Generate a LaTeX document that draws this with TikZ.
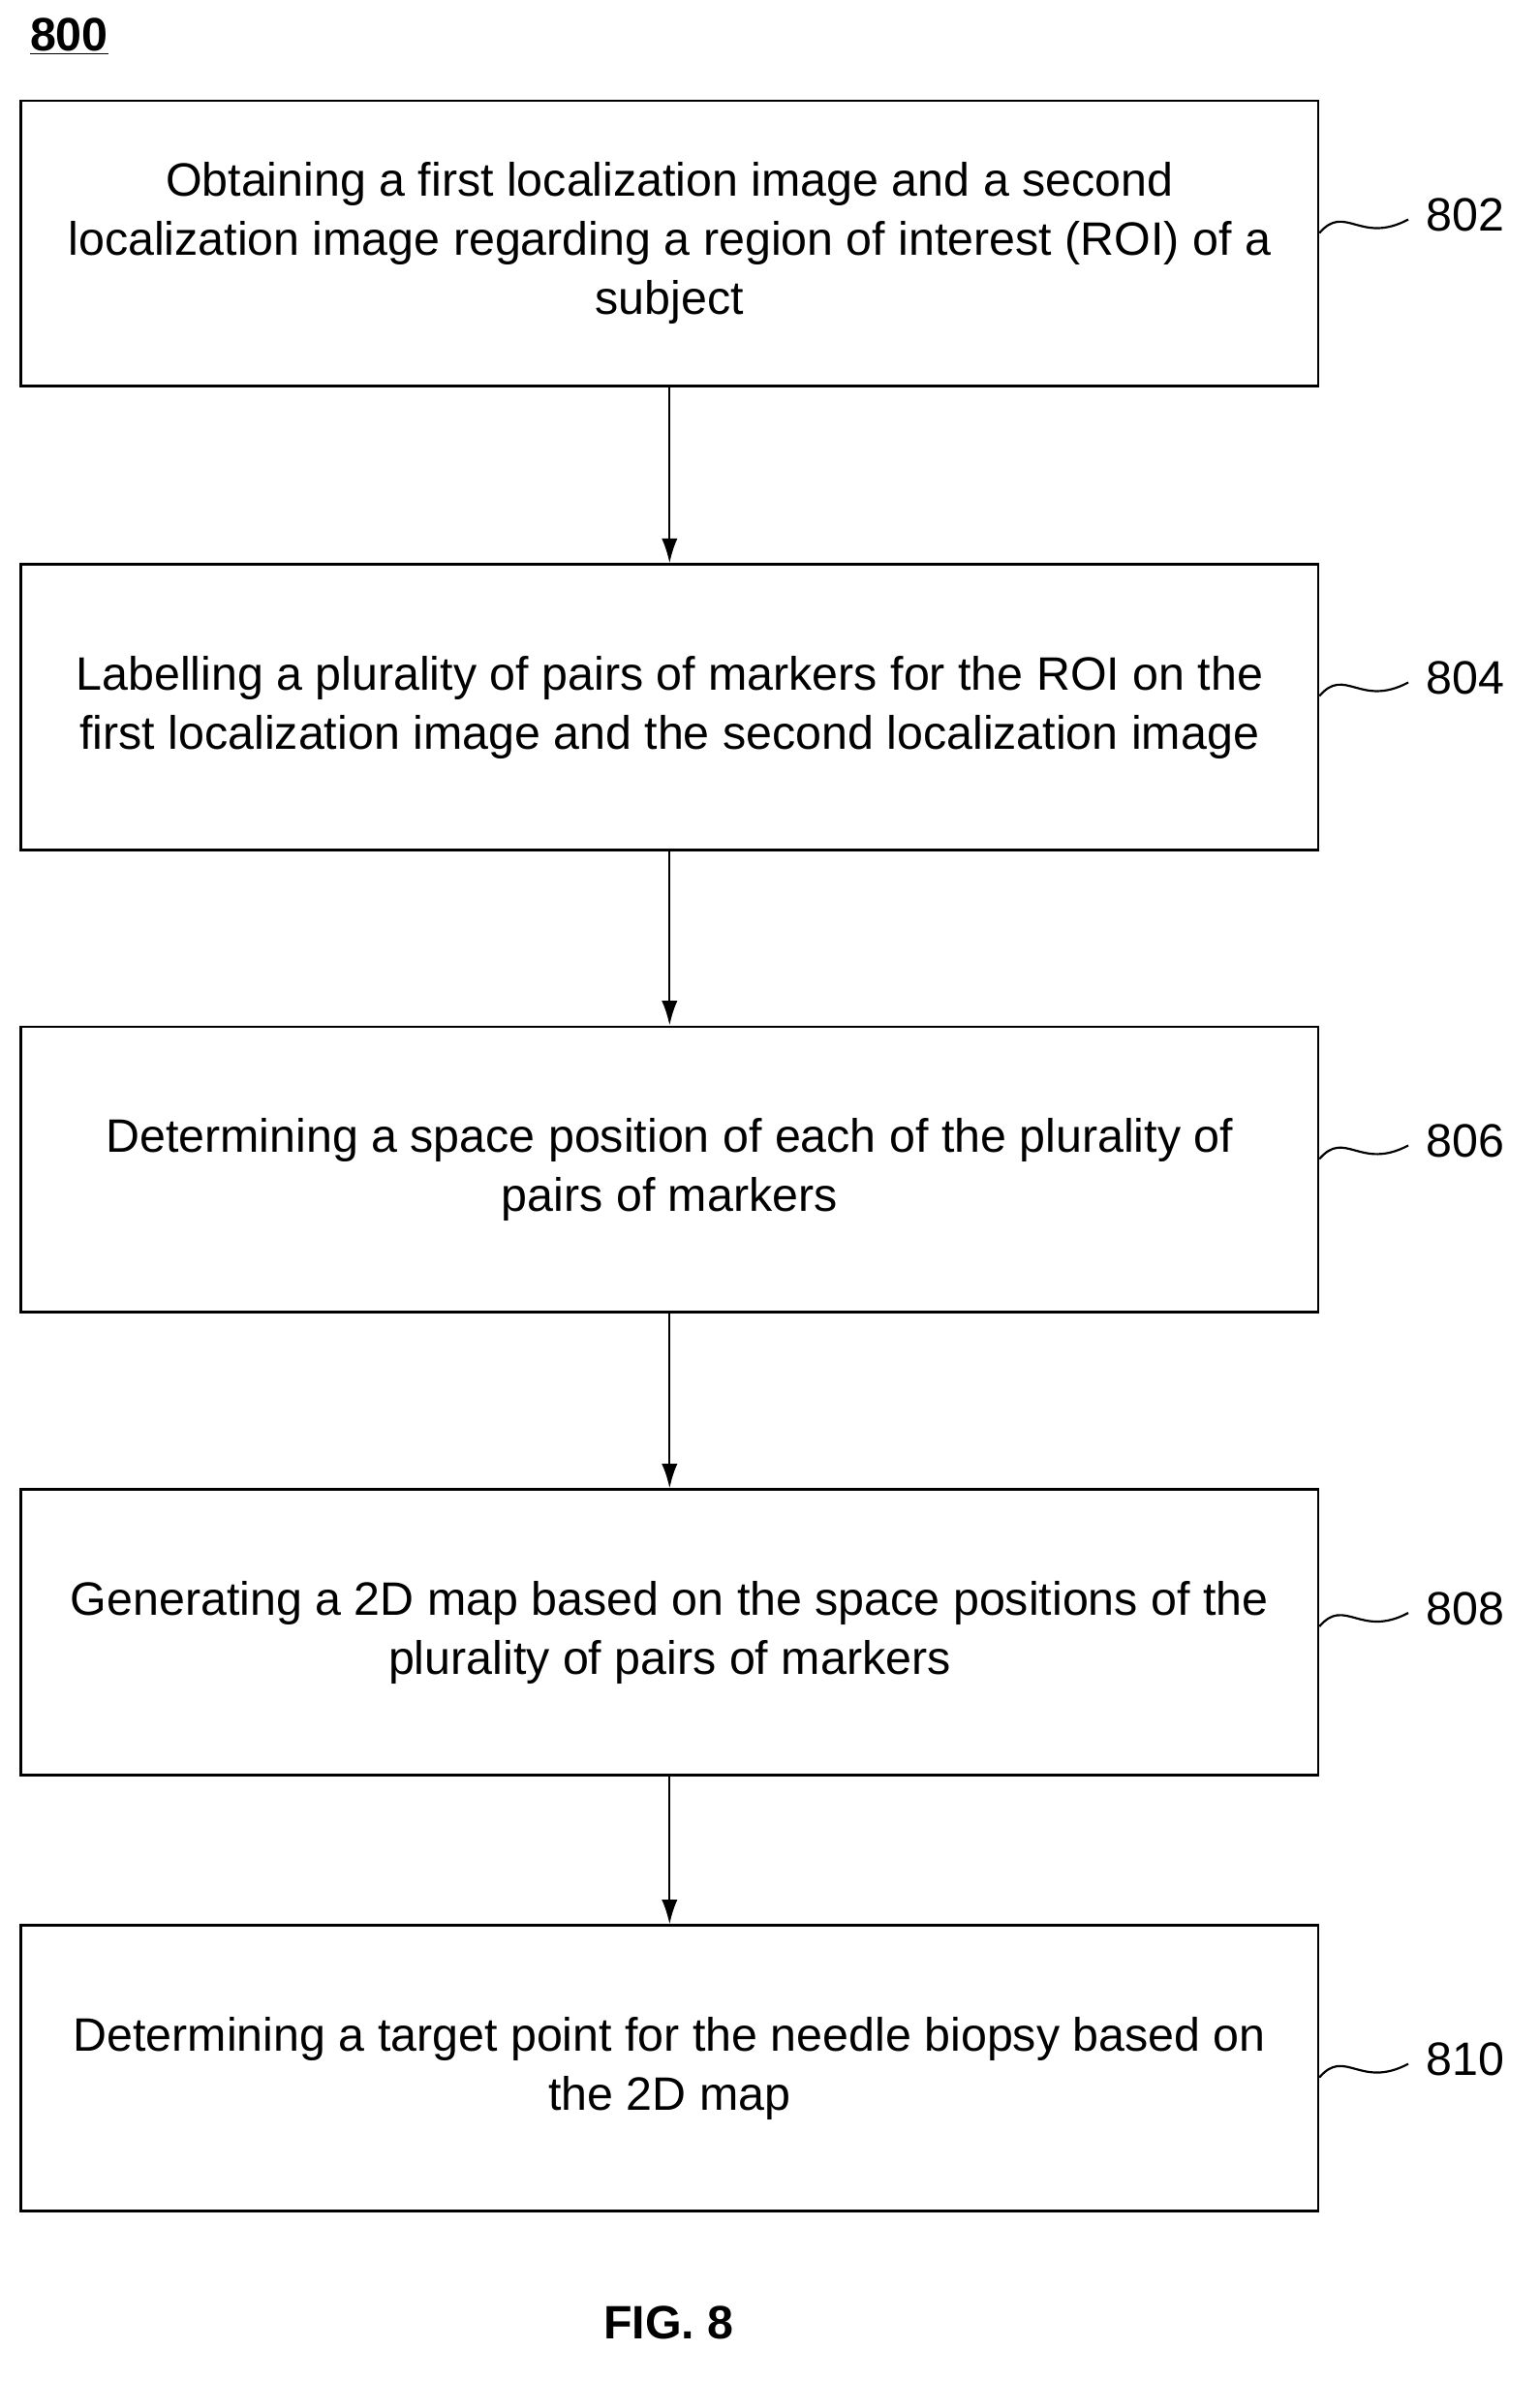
\documentclass[tikz,border=0pt]{standalone}
\usepackage{fontspec}
\setmainfont{Liberation Sans}
\usetikzlibrary{arrows.meta}
\begin{document}
\begin{tikzpicture}[x=0.03cm,y=-0.03cm,
box/.style={draw,line width=1.5pt,minimum width=863*0.03cm,minimum height=190*0.03cm,align=center,font=\fontsize{26.6}{33.5}\selectfont,inner sep=0pt},
lab/.style={font=\fontsize{26.6}{30}\selectfont,anchor=west},
arr/.style={-{Latex[length=14pt,width=9pt]},line width=1.2pt}]
\useasboundingbox (0,0) rectangle (1024,1584);
\node[font=\bfseries\fontsize{26.6}{30}\selectfont] (t) at (46,24) {\underline{800}};
\node[box] (b1) at (445.5,162) {Obtaining a first localization image and a second\\localization image regarding a region of interest (ROI) of a\\subject};
\node[box] (b2) at (445.5,470.5) {Labelling a plurality of pairs of markers for the ROI on the\\first localization image and the second localization image};
\node[box] (b3) at (445.5,778) {Determining a space position of each of the plurality of\\pairs of markers};
\node[box] (b4) at (445.5,1086) {Generating a 2D map based on the space positions of the\\plurality of pairs of markers};
\node[box] (b5) at (445.5,1376) {Determining a target point for the needle biopsy based on\\the 2D map};
\foreach \b/\n/\y in {b1/802/143,b2/804/451,b3/806/759,b4/808/1070,b5/810/1370}{
  \node[lab] (l\n) at (945,\y) {\n};
  \draw[line width=1.2pt] (\b.east|-0,\y+12) .. controls (895,\y-8) and (905,\y+20) .. (937,\y+3);
}
\draw[arr] (b1) -- (b2);
\draw[arr] (b2) -- (b3);
\draw[arr] (b3) -- (b4);
\draw[arr] (b4) -- (b5);
\node[font=\bfseries\fontsize{26.6}{30}\selectfont] (f) at (445,1545) {FIG. 8};
\end{tikzpicture}
\end{document}
